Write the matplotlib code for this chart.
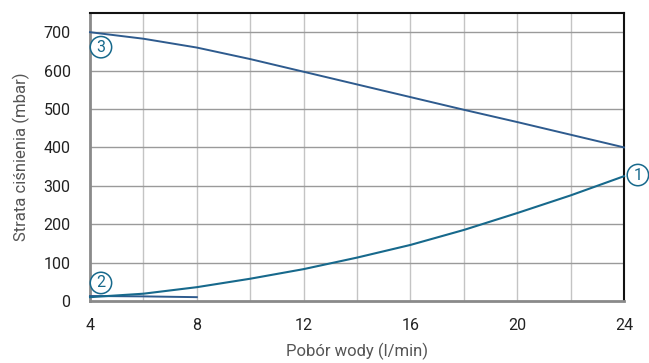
import matplotlib
matplotlib.use("Agg")
import matplotlib.pyplot as plt
import numpy as np

plt.rcParams['font.family'] = ['Roboto', 'DejaVu Sans']

# Flow rate (l/min) and pressure loss (mbar) for each curve
flow_1 = [4, 6, 8, 10, 12, 14, 16, 18, 20, 22, 24]
loss_1 = [10, 19, 36, 58, 83, 113, 146, 185, 229, 275, 325]

flow_2 = [4, 6, 8]
loss_2 = [13, 12, 10]

flow_3 = [4, 6, 8, 10, 12, 14, 16, 18, 20, 22, 24]
loss_3 = [700, 683, 660, 630, 597, 564, 531, 498, 466, 433, 400]

x_ticks = [4, 8, 12, 16, 20, 24]
y_ticks = [0, 100, 200, 300, 400, 500, 600, 700]

curve_labels = ["1", "2", "3"]
label_pos = [(24.52, 328), (4.41, 47), (4.41, 661)]

navy = "#2e5b8e"
teal = "#17698c"

fig = plt.figure(figsize=(6.49, 3.63), dpi=100)
ax = fig.add_axes([0.1387, 0.1708, 0.8228, 0.7934])

ax.set_xlim(4, 24)
ax.set_ylim(0, 750)

# grid
for xv in np.arange(6, 24, 2):
    ax.axvline(xv, color="#c4c4c4", lw=1.0, zorder=1)
for yv in range(100, 750, 100):
    ax.axhline(yv, color="#9a9a9a", lw=1.0, zorder=1)

ax.plot(flow_3, loss_3, color=navy, lw=1.4, zorder=3, clip_on=False)
ax.plot(flow_2, loss_2, color=navy, lw=1.4, zorder=3, clip_on=False)
ax.plot(flow_1, loss_1, color=teal, lw=1.5, zorder=4, clip_on=False)

for lab, (lx, ly) in zip(curve_labels, label_pos):
    ax.text(lx, ly, lab, ha="center", va="center", fontsize=11.5, color=teal,
            zorder=6, clip_on=False,
            bbox=dict(boxstyle="circle,pad=0.2", fc="white", ec=teal, lw=1.1))

for side in ("left", "bottom"):
    ax.spines[side].set_color("#8a8a8a")
    ax.spines[side].set_linewidth(2.0)
for side in ("top", "right"):
    ax.spines[side].set_color("#111111")
    ax.spines[side].set_linewidth(1.5)

ax.set_xticks(x_ticks)
ax.set_yticks(y_ticks)
ax.tick_params(length=0, labelsize=11.5, colors="#222222", pad=14)
ax.tick_params(axis="x", pad=12)

ax.set_xlabel("Pobór wody (l/min)", fontsize=12, color="#555555", labelpad=7)
ax.set_ylabel("Strata ciśnienia (mbar)", fontsize=12, color="#555555", labelpad=10)

fig.savefig("out.png", dpi=100)
